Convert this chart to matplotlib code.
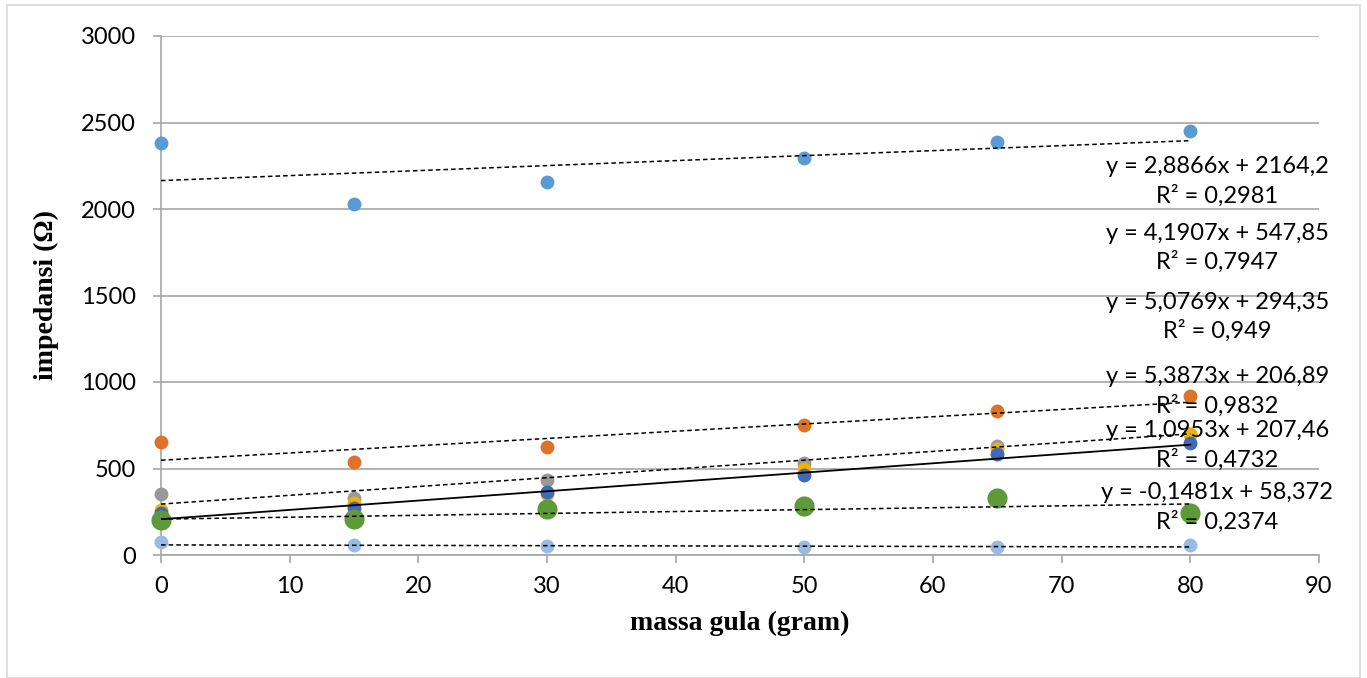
import matplotlib
matplotlib.use("Agg")
import matplotlib.pyplot as plt
import numpy as np
from matplotlib.patches import Rectangle

# data
mass = [0, 15, 30, 50, 65, 80]
s_top = [2380, 2030, 2155, 2295, 2390, 2450]
s_orange = [655, 535, 625, 750, 835, 920]
s_gray = [355, 330, 435, 530, 630, 700]
s_yellow = [260, 300, 350, 500, 610, 700]
s_dblue = [240, 270, 365, 465, 585, 645]
s_green = [200, 210, 265, 285, 330, 245]
s_lblue = [75, 60, 50, 45, 45, 60]

trend_slopes = [2.8866, 4.1907, 5.0769, 5.3873, 1.0953, -0.1481]
trend_icepts = [2164.2, 547.85, 294.35, 206.89, 207.46, 58.372]
trend_r2 = ["0,2981", "0,7947", "0,949", "0,9832", "0,4732", "0,2374"]
trend_labels = ["y = 2,8866x + 2164,2", "y = 4,1907x + 547,85", "y = 5,0769x + 294,35",
                "y = 5,3873x + 206,89", "y = 1,0953x + 207,46", "y = -0,1481x + 58,372"]
trend_styles = ["dash", "dash", "dash", "solid", "dash", "dash"]
label_y = [2162, 1775, 1376, 948, 636, 277]

xticks = list(range(0, 91, 10))
yticks = list(range(0, 3001, 500))

W, H = 1367, 678
fig = plt.figure(figsize=(W / 100, H / 100), dpi=100)
ax = fig.add_axes([161 / W, 1 - 555 / H, (1319 - 161) / W, (555 - 36) / H])

fig.patches.append(Rectangle((7 / W, 0), (1360 - 7) / W, 1 - 5 / H, transform=fig.transFigure,
                             fill=False, edgecolor="#D9D9D9", linewidth=1.2))

ax.set_xlim(0, 90)
ax.set_ylim(0, 3000)
ax.set_xticks(xticks)
ax.set_yticks(yticks)
ax.yaxis.grid(True, color="#A6A6A6", linewidth=1.2)
ax.set_axisbelow(True)
for s in ["top", "right"]:
    ax.spines[s].set_visible(False)
for s in ["left", "bottom"]:
    ax.spines[s].set_color("#A6A6A6")
    ax.spines[s].set_linewidth(1.2)
ax.tick_params(axis="both", direction="out", color="#A6A6A6", width=1.2, length=6,
               labelsize=17)
ax.tick_params(axis="x", pad=9)
ax.tick_params(axis="y", pad=12)
for lab in ax.get_xticklabels() + ax.get_yticklabels():
    lab.set_family("Lato")

ms = 10
series = [(s_top, "#5B9BD5", ms), (s_orange, "#E07228", ms), (s_gray, "#999999", ms),
          (s_yellow, "#F0B400", ms), (s_dblue, "#4169B8", ms), (s_green, "#5E9A3A", 14.5),
          (s_lblue, "#97BCE4", ms)]
for vals, col, size in series:
    ax.plot(mass, vals, "o", color=col, markersize=size, markeredgewidth=0, zorder=3,
            clip_on=False)

xt = np.array([0, 80])
for m, b, st in zip(trend_slopes, trend_icepts, trend_styles):
    if st == "solid":
        ax.plot(xt, m * xt + b, color="black", linewidth=1.3, zorder=4)
    else:
        ax.plot(xt, m * xt + b, color="black", linewidth=1.1, dashes=(3, 2), zorder=4)

for lab, r2, yy in zip(trend_labels, trend_r2, label_y):
    ax.text(82.1, yy, lab + "\nR² = " + r2, ha="center", va="center", fontsize=17,
            family="Lato", linespacing=1.42, zorder=5, clip_on=False,
            multialignment="center")

ax.set_xlabel("massa gula (gram)", family="Liberation Serif", fontweight="bold",
              fontsize=20, labelpad=10)
ax.set_ylabel("impedansi (Ω)", family="Liberation Serif", fontweight="bold",
              fontsize=20, labelpad=16)

fig.savefig("out.png", dpi=100)
